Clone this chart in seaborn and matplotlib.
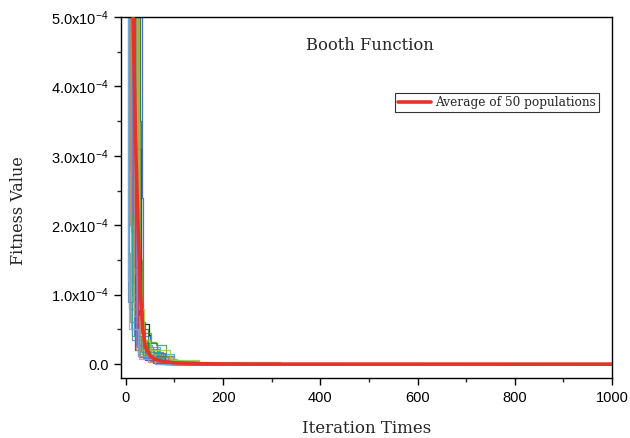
import numpy as np
import pandas as pd
import matplotlib
matplotlib.use("Agg")
import matplotlib.pyplot as plt
from matplotlib.ticker import MultipleLocator, FixedLocator, FixedFormatter
import seaborn as sns

# Best-so-far fitness of individual populations: (iteration, value in units of 1e-4) breakpoints
run_01 = [(0, 14.0), (20, 3.1), (31, 0.58), (47, 0.42), (50, 0.12), (78, 0.05), (120, 0.0)]
run_02 = [(0, 9.5), (14, 2.1), (22, 0.35), (40, 0.10), (90, 0.0)]
run_03 = [(0, 16.0), (33, 2.4), (36, 0.30), (64, 0.08), (100, 0.0)]
run_04 = [(0, 12.0), (28, 0.9), (32, 0.45), (52, 0.32), (62, 0.28), (83, 0.12), (97, 0.03), (130, 0.0)]
run_05 = [(0, 10.0), (15, 1.17), (23, 0.25), (56, 0.18), (76, 0.12), (100, 0.02), (140, 0.0)]
run_06 = [(0, 8.0), (18, 0.6), (30, 0.27), (54, 0.25), (70, 0.14), (100, 0.04), (150, 0.0)]
run_07 = [(0, 11.0), (24, 0.45), (36, 0.13), (72, 0.10), (96, 0.03), (130, 0.0)]
run_08 = [(0, 7.0), (10, 1.9), (18, 0.20), (40, 0.06), (80, 0.0)]
run_09 = [(0, 13.0), (26, 0.5), (40, 0.20), (58, 0.16), (80, 0.05), (110, 0.0)]
run_10 = [(0, 9.0), (16, 0.8), (28, 0.10), (60, 0.02), (100, 0.0)]
run_11 = [(0, 15.0), (30, 1.5), (34, 0.20), (56, 0.12), (88, 0.08), (102, 0.0)]
run_12 = [(0, 8.5), (12, 1.0), (20, 0.35), (44, 0.22), (68, 0.06), (110, 0.0)]
run_13 = [(0, 12.5), (8, 2.8), (13, 1.17), (17, 0.40), (50, 0.05), (100, 0.0)]
run_14 = [(0, 9.0), (22, 0.7), (27, 0.15), (48, 0.07), (90, 0.0)]
run_15 = [(0, 10.5), (19, 1.3), (25, 0.30), (48, 0.14), (72, 0.04), (120, 0.0)]
run_16 = [(0, 7.5), (11, 0.5), (26, 0.08), (60, 0.0)]
run_17 = [(0, 11.5), (6, 1.6), (9, 0.6), (30, 0.10), (70, 0.0)]
run_18 = [(0, 14.5), (7, 0.8), (24, 0.30), (38, 0.20), (66, 0.05), (140, 0.0)]
run_19 = [(0, 8.0), (21, 0.6), (34, 0.15), (70, 0.07), (105, 0.03), (320, 0.0)]
run_20 = [(0, 10.0), (9, 2.0), (15, 0.9), (20, 0.20), (45, 0.03), (90, 0.0)]
run_21 = [(0, 12.0), (5, 0.9), (12, 0.35), (36, 0.09), (80, 0.0)]
run_22 = [(0, 9.0), (29, 3.5), (32, 0.6), (40, 0.50), (46, 0.12), (80, 0.0)]
run_23 = [(0, 13.0), (17, 0.7), (29, 0.20), (52, 0.10), (100, 0.0)]
run_24 = [(0, 8.0), (13, 0.4), (32, 0.18), (66, 0.02), (110, 0.0)]
run_25 = [(0, 11.0), (18, 1.4), (24, 0.12), (55, 0.02), (90, 0.0)]
run_26 = [(0, 9.5), (12, 2.2), (21, 0.28), (42, 0.10), (86, 0.0)]
run_27 = [(0, 10.0), (4, 1.2), (7, 0.5), (25, 0.12), (60, 0.0)]
run_28 = [(0, 12.0), (27, 0.8), (37, 0.35), (50, 0.20), (90, 0.06), (150, 0.0)]

runs = [run_01, run_02, run_03, run_04, run_05, run_06, run_07, run_08, run_09, run_10,
        run_11, run_12, run_13, run_14, run_15, run_16, run_17, run_18, run_19, run_20,
        run_21, run_22, run_23, run_24, run_25, run_26, run_27, run_28]

run_colors = ['#000000', '#e03a30', '#3a4fd0', '#3aa33a', '#c040c0', '#3aa6d8', '#a8a828',
              '#2a3a90', '#8048a8', '#9a2a3a', '#6e9a2a', '#2a9a9a', '#4a78e0', '#f08a30',
              '#9a50e0', '#f07ab0', '#888888', '#6a9ad8', '#7cc46a', '#c08850', '#4a86b8',
              '#1e7a2e', '#b8a070', '#2aa890', '#d0304a', '#8a70c8', '#70b0e8', '#9ad040']

# Mean fitness over all populations (units of 1e-4)
avg_iter = [0, 10, 15, 20, 25, 30, 35, 40, 50, 60, 80, 100, 150, 200, 300, 1000]
avg_val = [12.0, 7.0, 5.0, 3.2, 2.0, 1.0, 0.5, 0.25, 0.12, 0.07, 0.035, 0.018, 0.006, 0.002, 0.0005, 0.0]

max_iter = 1000
scale = 1e-4

sns.set_theme(style="ticks")
plt.rcParams['font.family'] = ['Liberation Sans', 'DejaVu Sans']
plt.rcParams['mathtext.fontset'] = 'custom'
plt.rcParams['mathtext.rm'] = 'Liberation Sans'
plt.rcParams['mathtext.it'] = 'Liberation Sans'

rows = []
for k, r in enumerate(runs):
    pts = list(r) + [(max_iter, r[-1][1])]
    for it, v in pts:
        rows.append({'run': f'run{k:02d}', 'iteration': it, 'fitness': v * scale})
df = pd.DataFrame(rows)

fig = plt.figure(figsize=(6.3, 4.38), dpi=100)
ax = fig.add_axes([121 / 630, 1 - 378 / 438, 491 / 630, 361 / 438])

sns.lineplot(data=df, x='iteration', y='fitness', hue='run', units='run', estimator=None,
             palette=run_colors, drawstyle='steps-post', linewidth=0.9, alpha=0.85,
             legend=False, ax=ax, sort=False)

sns.lineplot(x=avg_iter, y=np.array(avg_val) * scale, color='#e6332a', linewidth=2.6,
             label='Average of 50 populations', ax=ax, zorder=5)

ax.set_xlim(-10, 1000)
ax.set_ylim(-0.2e-4, 5.0e-4)

ax.xaxis.set_major_locator(MultipleLocator(200))
ax.xaxis.set_minor_locator(MultipleLocator(100))
yt = [0, 1e-4, 2e-4, 3e-4, 4e-4, 5e-4]
ax.yaxis.set_major_locator(FixedLocator(yt))
ax.yaxis.set_major_formatter(FixedFormatter(['0.0'] + [f'{i}.0x10$^{{-4}}$' for i in range(1, 6)]))
ax.yaxis.set_minor_locator(MultipleLocator(0.5e-4))

ax.tick_params(axis='both', which='major', direction='out', length=5, width=1,
               labelsize=10.5, colors='black', pad=4)
ax.tick_params(axis='both', which='minor', direction='out', length=3, width=1)
for s in ax.spines.values():
    s.set_linewidth(1.0)
    s.set_color('black')

serif = ['DejaVu Serif']
ax.set_xlabel('Iteration Times', fontsize=12, family=serif, labelpad=11)
ax.set_ylabel('Fitness Value', fontsize=11.5, family=serif)
ax.yaxis.set_label_coords(-0.192, 0.465)
ax.text(0.507, 0.922, 'Booth Function', transform=ax.transAxes, ha='center', va='center',
        fontsize=11.8, family=serif)

leg = ax.legend(loc='upper left', bbox_to_anchor=(0.558, 0.789), borderaxespad=0,
                frameon=True, fancybox=False, prop={'family': serif, 'size': 8.7},
                handlelength=2.7, handletextpad=0.35, borderpad=0.25)
leg.get_frame().set_edgecolor('black')
leg.get_frame().set_linewidth(0.8)

fig.savefig('out.png', dpi=100)
